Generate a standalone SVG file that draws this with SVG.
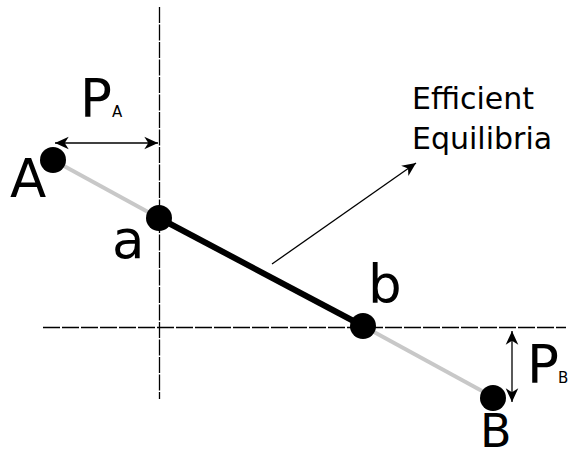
<svg xmlns="http://www.w3.org/2000/svg" width="570" height="458" viewBox="0 0 570 458">
<defs>
<style>
.lbl{font-family:"DejaVu Sans",sans-serif;fill:#000}
.big{font-size:53px}
.sub{font-size:15px}
.eq{font-size:30px}
.axis{stroke:#000;stroke-width:1.3;fill:none}
.gray{stroke:#c8c8c8;stroke-width:4;fill:none}
.thin{stroke:#000;stroke-width:1.3;fill:none}
.pt{fill:#000}
</style>
<marker id="ah" markerUnits="userSpaceOnUse" markerWidth="20" markerHeight="16" viewBox="-14 -7 16 14" refX="0" refY="0" orient="auto-start-reverse">
<path d="M0,0 L-12,-5.5 L-8.5,0 L-12,5.5 Z" fill="#000"/>
</marker>
</defs>
<g id="axes">
<line class="axis" x1="159.5" y1="7" x2="159.5" y2="399" stroke-dasharray="16 1.5"/>
<line class="axis" x1="43" y1="327.5" x2="566" y2="327.5" stroke-dasharray="17 2"/>
</g>
<g id="connectors">
<line class="gray" x1="53" y1="160" x2="159" y2="218"/>
<line class="gray" x1="363" y1="326" x2="493" y2="397"/>
<line x1="159" y1="218" x2="363" y2="326" stroke="#000" stroke-width="6"/>
<line class="thin" x1="55" y1="143" x2="158" y2="143" marker-start="url(#ah)" marker-end="url(#ah)"/>
<line class="thin" x1="512" y1="331" x2="512" y2="402" marker-start="url(#ah)" marker-end="url(#ah)"/>
<line class="thin" x1="272" y1="264" x2="416" y2="163" marker-end="url(#ah)"/>
</g>
<g id="node-A"><circle class="pt" cx="53" cy="160" r="13"/><text class="lbl big" x="10" y="197">A</text></g>
<g id="node-a"><circle class="pt" cx="159" cy="218" r="13"/><text class="lbl big" x="112" y="258">a</text></g>
<g id="node-b"><circle class="pt" cx="363" cy="326" r="13"/><text class="lbl big" x="368" y="303">b</text></g>
<g id="node-B"><circle class="pt" cx="493" cy="398" r="13"/><text class="lbl" style="font-size:46px" x="480" y="447">B</text></g>
<g id="label-PA"><text class="lbl big" x="80" y="117">P</text><text class="lbl sub" x="112" y="117">A</text></g>
<g id="label-PB"><text class="lbl big" x="527" y="383">P</text><text class="lbl sub" x="558" y="383">B</text></g>
<g id="label-eq"><text class="lbl eq" x="412" y="109">Efficient</text><text class="lbl eq" x="412" y="149">Equilibria</text></g>
</svg>
